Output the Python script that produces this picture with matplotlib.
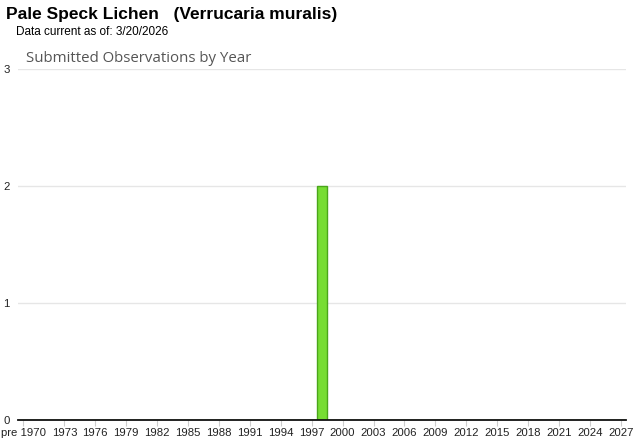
import matplotlib
matplotlib.use('Agg')
import matplotlib.pyplot as plt

# Data
years = ['pre 1970'] + [str(y) for y in range(1970, 2028)]
counts = [0] * len(years)
counts[years.index('1998')] = 2
shown_labels = ['pre 1970'] + [str(y) for y in range(1973, 2028, 3)]

W, H = 640, 442
fig = plt.figure(figsize=(W / 100, H / 100), dpi=100)
ax = fig.add_axes([18 / W, 1 - 420 / H, 608 / W, 351 / H])

xs = list(range(len(years)))
ax.bar(xs, counts, width=0.9, color='#77dd33', edgecolor='#4aa61a', linewidth=1.0, zorder=3)

ax.set_xlim(-0.5, len(years) - 0.5)
ax.set_ylim(0, 3)
ax.set_yticks([0, 1, 2, 3])
ax.grid(axis='y', color='#e6e6e6', linewidth=1, zorder=0)

tick_pos = [years.index(l) for l in shown_labels]
ax.set_xticks(tick_pos)
ax.set_xticklabels(shown_labels, fontsize=8.2, family='Liberation Sans', color='#222222')
ax.tick_params(axis='x', length=4, color='#cccccc', pad=2)
ax.tick_params(axis='y', length=0, pad=6, labelsize=8.2, labelcolor='#222222')
for lab in ax.get_yticklabels():
    lab.set_family('Liberation Sans')

for side in ['top', 'right', 'left']:
    ax.spines[side].set_visible(False)
ax.spines['bottom'].set_color('#111111')
ax.spines['bottom'].set_linewidth(1.3)
ax.spines['bottom'].set_zorder(4)

fig.text(6 / W, 1 - 15 / H, 'Pale Speck Lichen   (Verrucaria muralis)', fontsize=12.5,
         fontweight='bold', family='Liberation Sans', va='center', ha='left')
fig.text(16 / W, 1 - 32 / H, 'Data current as of: 3/20/2026', fontsize=8.5,
         family='Liberation Sans', va='center', ha='left')
fig.text(26 / W, 1 - 59 / H, 'Submitted Observations by Year', fontsize=10.8,
         family='Open Sans', color='#555555', va='center', ha='left')

fig.savefig('out.png', dpi=100)
